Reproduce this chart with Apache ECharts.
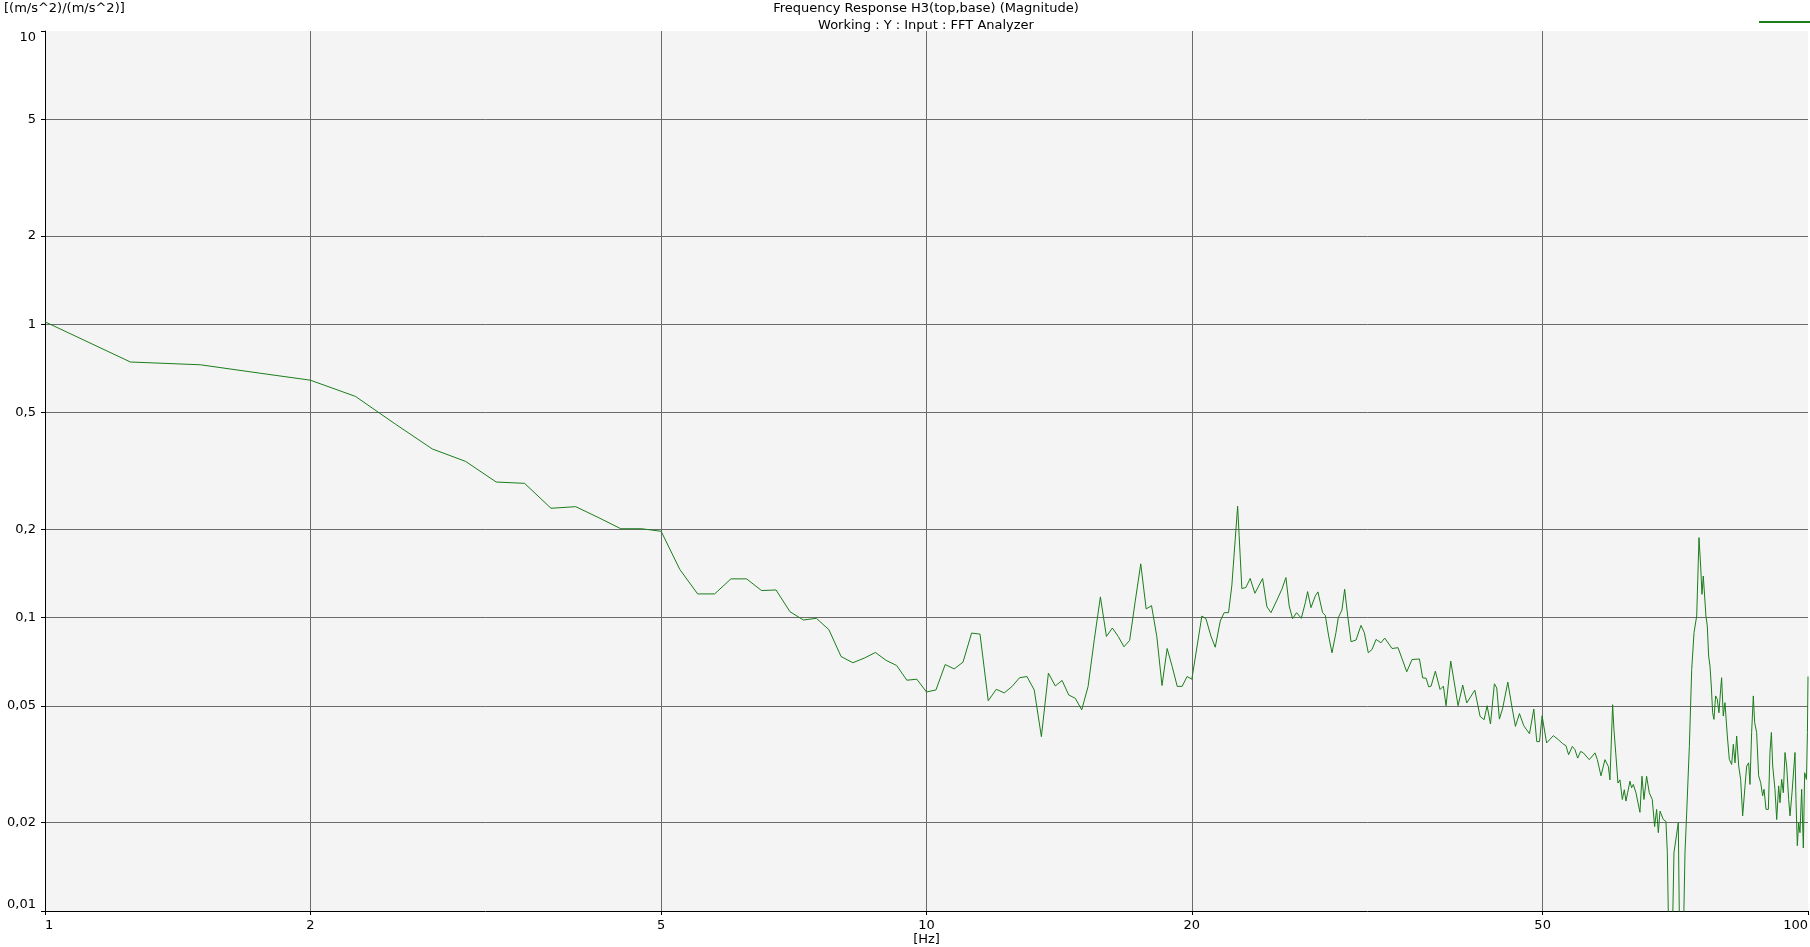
<!DOCTYPE html>
<html><head><meta charset="utf-8">
<script src="https://cdn.jsdelivr.net/npm/echarts@6/dist/echarts.min.js"></script>
<style>html,body{margin:0;padding:0;background:#fff}#c{width:1810px;height:947px}</style>
</head><body><div id="c"></div>
<script>
const xTicks = [1, 2, 5, 10, 20, 50, 100];
const yTicks = [0.01, 0.02, 0.05, 0.1, 0.2, 0.5, 1, 2, 5, 10];
const titleText = 'Frequency Response H3(top,base) (Magnitude)';
const subText = 'Working : Y : Input : FFT Analyzer';
const yUnit = '[(m/s^2)/(m/s^2)]';
const xUnit = '[Hz]';
const seriesName = 'H3';

const freqs = [
  1, 1.25, 1.5, 1.75, 2, 2.25, 2.5, 2.75, 3, 3.25, 3.5, 3.75, 4, 4.25, 4.5, 4.75, 5, 5.25,
  5.5, 5.75, 6, 6.25, 6.5, 6.75, 7, 7.25, 7.5, 7.75, 8, 8.25, 8.5, 8.75, 9, 9.25, 9.5, 9.75,
  10, 10.25, 10.5, 10.75, 11, 11.25, 11.5, 11.75, 12, 12.25, 12.5, 12.75, 13, 13.25, 13.5, 13.75,
  14, 14.25, 14.5, 14.75, 15, 15.25, 15.5, 15.75, 16, 16.25, 16.5, 16.75, 17, 17.25, 17.5, 17.75,
  18, 18.25, 18.5, 18.75, 19, 19.25, 19.5, 19.75, 20,
  20.53, 20.75, 21.02, 21.26, 21.54, 21.76, 22.01, 22.2, 22.4, 22.54, 22.63, 22.79, 23.03, 23.29,
  23.58, 24.06, 24.33, 24.59, 24.95, 25.3, 25.57, 25.79, 26.02, 26.29, 26.62, 26.9, 27.06, 27.3,
  27.61, 27.8, 28.14, 28.34, 28.59, 28.84, 29.14, 29.32, 29.6, 29.81, 30.05, 30.31, 30.71, 31.11,
  31.38, 31.71, 32.02, 32.36, 32.78, 33.1, 33.74, 34.27, 34.6, 35.06, 35.55, 36.24, 36.55, 36.87,
  37.13, 37.36, 37.78, 38.25, 38.58, 38.85, 39.33, 40.09, 40.58, 41.01, 41.88, 42.46, 42.91, 43.25,
  43.63, 44.08, 44.35, 44.66, 45.05, 45.65, 46.17, 46.57, 47.06, 47.6, 48.31, 48.86, 49.24, 49.59, 49.93,
  50.52, 51.41, 52.09, 52.69, 53.14, 53.51, 54.03, 54.4, 54.79, 55.22, 55.61, 56.48, 57.33, 57.68,
  58.23, 58.84, 59.36, 59.61, 60.03, 60.24, 60.56, 60.87, 61.19, 61.57, 61.89, 62.16, 62.43, 62.81,
  63.08, 63.36, 63.8, 64.47, 64.81, 65.15, 65.6, 66.06, 66.58, 66.99, 67.34, 67.64, 67.94, 68.53,
  69.0, 69.25, 69.61, 70.03, 70.46, 71.26, 71.58, 72.08, 72.52, 72.84, 73.35, 73.8,
  74.25, 74.77, 75.22, 75.55, 75.81, 76.07, 76.34, 76.6, 76.87, 77.14, 77.41, 77.68, 77.95, 78.22,
  78.56, 78.9, 79.25, 79.6, 79.8, 80.15, 80.5, 81.0, 81.42, 81.92, 82.28, 82.64, 83.0, 83.44,
  83.87, 84.31, 84.83, 85.2, 85.64, 85.94, 86.31, 86.69, 86.99, 87.44, 87.9, 88.37, 88.83, 89.15,
  89.62, 90.16, 90.54, 90.88, 91.19, 91.73, 92.15, 92.62, 92.95, 93.35, 93.76, 94.17, 94.58, 95.08,
  95.41, 95.91, 96.66, 96.91, 97.25, 97.59, 97.93, 98.36, 98.79, 99.13, 99.6, 99.85, 100
];

const mags = [
  1.02, 0.744, 0.728, 0.682, 0.645, 0.568, 0.456, 0.376, 0.341, 0.290, 0.287, 0.236, 0.239, 0.219, 0.201, 0.201, 0.197, 0.146,
  0.1205, 0.1205, 0.1356, 0.1356, 0.1237, 0.1243, 0.1048, 0.0982, 0.0995, 0.091, 0.0737, 0.0702, 0.0728, 0.0761, 0.0715, 0.0687, 0.0612, 0.0617,
  0.0558, 0.0567, 0.0692, 0.0669, 0.0705, 0.0886, 0.0879, 0.0521, 0.057, 0.0554, 0.0582, 0.0624, 0.063, 0.0567, 0.0393, 0.0647,
  0.0585, 0.0611, 0.0545, 0.0531, 0.0485, 0.0582, 0.0841, 0.1177, 0.0863, 0.0922, 0.0863, 0.0796, 0.0837, 0.1137, 0.1526, 0.1071,
  0.1099, 0.0863, 0.0587, 0.0785, 0.0681, 0.0583, 0.0583, 0.063, 0.0617,
  0.1013, 0.0992, 0.0866, 0.0793, 0.0974, 0.104, 0.104, 0.1283, 0.1853, 0.2398, 0.1903, 0.1257, 0.1267, 0.136,
  0.1211, 0.136, 0.109, 0.104, 0.114, 0.125, 0.137, 0.1096, 0.0992, 0.104, 0.0995, 0.1125, 0.1227, 0.1082,
  0.1186, 0.1224, 0.104, 0.1019, 0.0866, 0.0759, 0.0889, 0.1, 0.1062, 0.125, 0.1013, 0.0828, 0.0839, 0.0941,
  0.0889, 0.0759, 0.0779, 0.0843, 0.0821, 0.0852, 0.0785, 0.079, 0.073, 0.0654, 0.072, 0.0723, 0.0623, 0.0622,
  0.0581, 0.0584, 0.0657, 0.0569, 0.0584, 0.0501, 0.0711, 0.0501, 0.0589, 0.0512, 0.0566, 0.0461, 0.0449, 0.0501,
  0.0434, 0.0595, 0.0576, 0.0451, 0.0492, 0.0603, 0.0492, 0.0426, 0.0471, 0.0428, 0.0402, 0.0488, 0.0378, 0.0378, 0.0463,
  0.0374, 0.0396, 0.0384, 0.0372, 0.0366, 0.0341, 0.0364, 0.0355, 0.0332, 0.035, 0.0346, 0.0328, 0.0346, 0.0328,
  0.0289, 0.0328, 0.0311, 0.028, 0.0505, 0.0415, 0.0337, 0.0273, 0.028, 0.024, 0.0259, 0.0237, 0.0253, 0.0277,
  0.0263, 0.027, 0.0253, 0.0217, 0.0288, 0.024, 0.0288, 0.0253, 0.024, 0.0194, 0.0222, 0.0185, 0.0219, 0.0205,
  0.0202, 0.0158, 0.006, 0.006, 0.0158, 0.02, 0.006, 0.006, 0.0158, 0.0216, 0.0364, 0.0665,
  0.0889, 0.1013, 0.1874, 0.15, 0.1201, 0.1387, 0.1387, 0.1013, 0.0937, 0.074, 0.0684, 0.0585, 0.0474, 0.045,
  0.0541, 0.0527, 0.0474, 0.057, 0.0624, 0.0462, 0.0513, 0.0395, 0.0329, 0.0316, 0.037, 0.032, 0.0395, 0.0312,
  0.0281, 0.0211, 0.0267, 0.0312, 0.032, 0.027, 0.0406, 0.0541, 0.0439, 0.0406, 0.0289, 0.0274, 0.0247, 0.026,
  0.0222, 0.0222, 0.0347, 0.0406, 0.0312, 0.026, 0.0205, 0.0267, 0.0234, 0.0281, 0.0253, 0.0347, 0.0312, 0.024,
  0.0211, 0.0253, 0.0347, 0.024, 0.0167, 0.02, 0.0185, 0.026, 0.0164, 0.0296, 0.0281, 0.0406, 0.063
];

const fmtNum = v => String(v).replace('.', ',');
const data = freqs.map((f, i) => [f, mags[i]]);
const FONT = 'DejaVu Sans';
const FS = 13;

const chart = echarts.init(document.getElementById('c'), null, {renderer: 'canvas'});
chart.setOption({
  animation: false,
  backgroundColor: '#ffffff',
  textStyle: {fontFamily: FONT},
  title: [
    {
      text: titleText, subtext: subText,
      left: 926, top: 1, textAlign: 'center', itemGap: 2, padding: 0,
      textStyle: {fontFamily: FONT, fontSize: FS, fontWeight: 'normal', color: '#000', lineHeight: 15},
      subtextStyle: {fontFamily: FONT, fontSize: FS, color: '#000', lineHeight: 15}
    },
    {
      text: yUnit, left: 4, top: 1, padding: 0,
      textStyle: {fontFamily: FONT, fontSize: FS, fontWeight: 'normal', color: '#000', lineHeight: 15}
    }
  ],
  legend: {
    right: -3, top: 21, padding: 0, itemWidth: 54, itemHeight: 2, icon: 'rect',
    formatter: () => '', data: [seriesName], selectedMode: false
  },
  grid: {
    left: 45, right: 2, top: 31, bottom: 36, containLabel: false, outerBoundsMode: 'none',
    show: true, backgroundColor: '#f4f4f4', borderWidth: 0
  },
  xAxis: {
    type: 'log', logBase: 10, min: 1, max: 100,
    name: xUnit, nameLocation: 'middle', nameGap: 22, nameMoveOverlap: false,
    nameTextStyle: {fontFamily: FONT, fontSize: FS, color: '#000', lineHeight: 14},
    axisLine: {show: true, lineStyle: {color: '#000', width: 1}},
    axisTick: {show: true, length: 4, inside: false, customValues: xTicks, lineStyle: {color: '#000'}},
    axisLabel: {
      customValues: xTicks, margin: 8, color: '#000', fontSize: FS, fontFamily: FONT,
      alignMinLabel: 'left', alignMaxLabel: 'right', formatter: v => fmtNum(v)
    },
    splitLine: {show: true, showMinLine: false, showMaxLine: false, lineStyle: {color: '#6a6a6a', width: 1}},
    minorTick: {show: false}, minorSplitLine: {show: false}
  },
  yAxis: {
    type: 'log', logBase: 10, min: 0.01, max: 10,
    axisLine: {show: true, lineStyle: {color: '#000', width: 1}},
    axisTick: {show: true, length: 4, inside: false, customValues: yTicks, lineStyle: {color: '#000'}},
    axisLabel: {
      customValues: yTicks, margin: 9, color: '#000', fontSize: FS, fontFamily: FONT,
      verticalAlignMinLabel: 'bottom', verticalAlignMaxLabel: 'top', formatter: v => fmtNum(v)
    },
    splitLine: {show: true, showMinLine: false, showMaxLine: false, lineStyle: {color: '#6a6a6a', width: 1}},
    minorTick: {show: false}, minorSplitLine: {show: false}
  },
  series: [{
    name: seriesName, type: 'line', data: data, showSymbol: false, symbol: 'none',
    clip: true, smooth: false,
    lineStyle: {color: '#1b7d1b', width: 1},
    itemStyle: {color: '#1b7d1b'}
  }]
});
</script>
</body></html>
